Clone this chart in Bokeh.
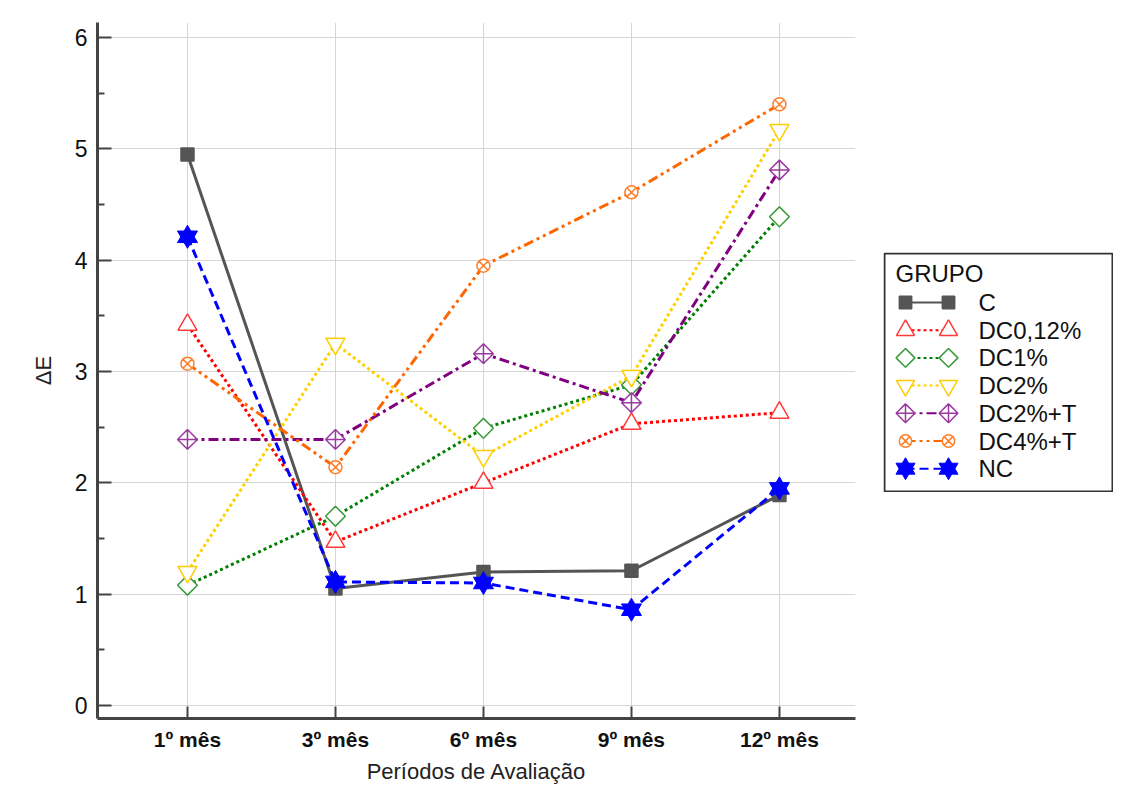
import math
from bokeh.plotting import figure
from bokeh.models import Range1d, FixedTicker, Spacer
from bokeh.layouts import row, column
from bokeh.core.properties import value
from bokeh.embed import file_html
from bokeh.resources import INLINE

# ---- data ----
periods = ["1º mês", "3º mês", "6º mês", "9º mês", "12º mês"]
xpos = [0, 1, 2, 3, 4]
y_ticks = [0, 1, 2, 3, 4, 5, 6]
group_names = ["C", "DC0,12%", "DC1%", "DC2%", "DC2%+T", "DC4%+T", "NC"]
C = [4.95, 1.05, 1.20, 1.21, 1.89]
DC012 = [3.42, 1.47, 2.00, 2.53, 2.63]
DC1 = [1.08, 1.70, 2.49, 2.88, 4.39]
DC2 = [1.20, 3.25, 2.24, 2.96, 5.17]
DC2T = [2.39, 2.39, 3.16, 2.72, 4.81]
DC4T = [3.07, 2.14, 3.95, 4.61, 5.40]
NC = [4.21, 1.11, 1.10, 0.86, 1.95]
values_list = [C, DC012, DC1, DC2, DC2T, DC4T, NC]

# ---- styles ----
styles = [
    dict(color="#555555", dash="solid", width=3, marker="square", mline="#555555", mfill="#555555", size=13, angle=0),
    dict(color="#ff0000", dash="3 3", width=3, marker="triangle", mline="#ff3b3b", mfill="white", size=19, angle=0),
    dict(color="#008000", dash="3 3", width=3, marker="square", mline="#3a9a3a", mfill="white", size=14, angle=math.pi / 4),
    dict(color="#ffd000", dash="3 3", width=3, marker="inverted_triangle", mline="#ffcc00", mfill="white", size=19, angle=0),
    dict(color="#800080", dash="10 4 3 4", width=3, marker="square_x", mline="#9a3aa0", mfill="white", size=14, angle=math.pi / 4),
    dict(color="#ff6600", dash="10 4 3 4 3 4", width=3, marker="circle_x", mline="#ff7f2a", mfill="white", size=13, angle=0),
    dict(color="#0000ff", dash="9 5", width=3, marker="hexagram", mline="#0000ff", mfill="#0000ff", size=20, angle=0),
]

FONT = "Liberation Sans"


def draw_markers(fig, xs, ys, st, scale=1.0):
    if st["marker"] == "hexagram":
        for m in ("triangle", "inverted_triangle"):
            fig.scatter(xs, ys, marker=m, size=st["size"] * scale, fill_color=st["mfill"],
                        line_color=st["mline"], line_width=1)
    else:
        fig.scatter(xs, ys, marker=st["marker"], size=st["size"] * scale, angle=st["angle"],
                    fill_color=st["mfill"], line_color=st["mline"], line_width=1.5)


p = figure(width=883, height=787, output_backend="svg", toolbar_location=None,
           x_range=Range1d(-0.608, 4.514), y_range=Range1d(-0.117, 6.135),
           min_border_left=97, min_border_right=28, min_border_top=22, min_border_bottom=69)
p.outline_line_color = None

for vals, st in zip(values_list, styles):
    p.line(xpos, vals, line_color=st["color"], line_width=st["width"], line_dash=st["dash"])
    draw_markers(p, xpos, vals, st)

p.xaxis.ticker = FixedTicker(ticks=xpos)
p.xaxis.major_label_overrides = {i: lab for i, lab in zip(xpos, periods)}
p.yaxis.ticker = FixedTicker(ticks=y_ticks, minor_ticks=[t + 0.5 for t in y_ticks[:-1]])

for ax in (p.xaxis[0], p.yaxis[0]):
    ax.axis_line_color = "#444444"
    ax.axis_line_width = 3
    ax.major_tick_line_color = "#444444"
    ax.major_tick_line_width = 2
    ax.major_tick_in = 14
    ax.major_tick_out = 0
    ax.minor_tick_line_color = "#444444"
    ax.minor_tick_line_width = 2
    ax.minor_tick_in = 7
    ax.minor_tick_out = 0
    ax.major_label_text_font = FONT
    ax.axis_label_text_font = FONT
    ax.axis_label_text_font_style = "normal"
    ax.major_label_text_color = "#111111"
    ax.axis_label_text_color = "#222222"

p.xaxis.major_tick_in = 12
p.xaxis.major_label_text_font_size = "21px"
p.xaxis.major_label_text_font_style = "bold"
p.xaxis.major_label_standoff = 9
p.xaxis.axis_label = "Períodos de Avaliação"
p.xaxis.axis_label_text_font_size = "22px"
p.xaxis.axis_label_standoff = 5

p.yaxis.major_label_text_font_size = "23px"
p.yaxis.major_label_standoff = 10
p.yaxis.axis_label = "ΔE"
p.yaxis.axis_label_text_font_size = "22px"
p.yaxis.axis_label_standoff = 16

p.xgrid.grid_line_color = "#d6d6d6"
p.ygrid.grid_line_color = "#d6d6d6"
p.xgrid.grid_line_width = 1
p.ygrid.grid_line_width = 1

# ---- legend panel ----
LW, LH = 230, 240
leg = figure(width=LW, height=LH, output_backend="svg", toolbar_location=None,
             x_range=Range1d(0, LW), y_range=Range1d(LH, 0),
             x_axis_type=None, y_axis_type=None,
             min_border=0, min_border_left=0, min_border_right=0, min_border_top=0, min_border_bottom=0)
leg.outline_line_color = None
leg.xgrid.visible = False
leg.ygrid.visible = False
leg.quad(left=[1], right=[LW - 1], top=[1], bottom=[LH - 1], fill_color=None,
         line_color="#333333", line_width=2)
leg.text(x=[12], y=[21], text=["GRUPO"], text_font=value(FONT), text_font_size="24px",
         text_baseline="middle", text_align="left", text_color="#111111")
for i, (name, st) in enumerate(zip(group_names, styles)):
    yy = 50 + i * 27.7
    leg.line([22, 65], [yy, yy], line_color=st["color"], line_width=2, line_dash=st["dash"])
    draw_markers(leg, [22, 65], [yy, yy], st, scale=0.95)
    leg.text(x=[95], y=[yy], text=[name], text_font=value(FONT), text_font_size="24px",
             text_baseline="middle", text_align="left", text_color="#111111")

layout = row(p, column(Spacer(width=LW, height=252), leg))

open("out.html", "w").write(file_html(layout, INLINE))
